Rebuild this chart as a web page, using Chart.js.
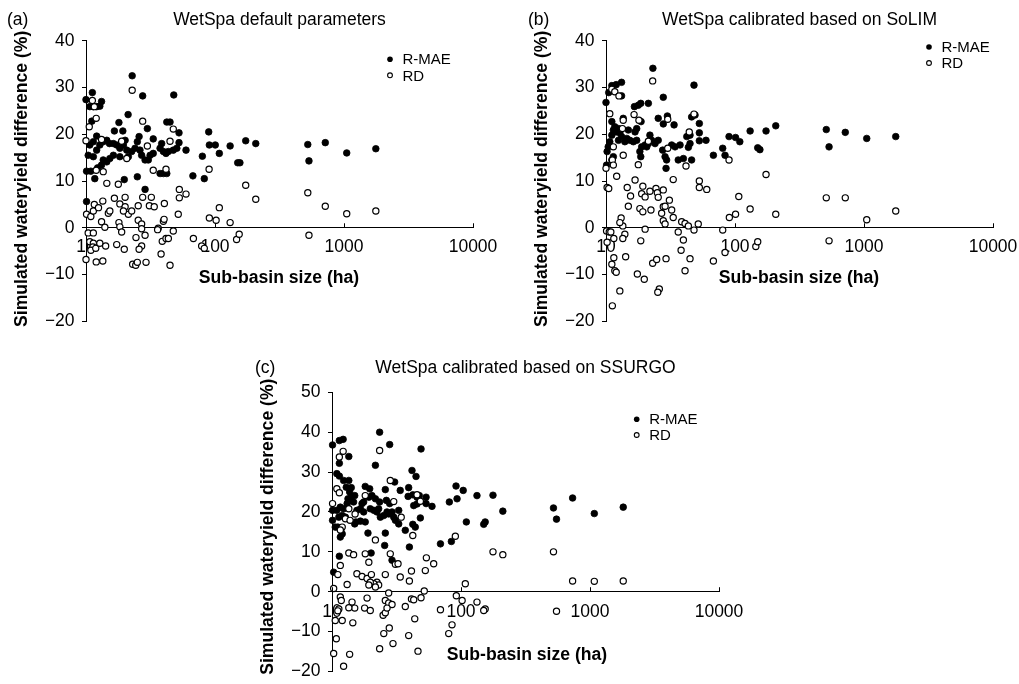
<!DOCTYPE html>
<html><head><meta charset="utf-8">
<script src="https://cdn.jsdelivr.net/npm/chart.js@4"></script>
<style>
html,body{margin:0;padding:0;background:#fff;}
#wrap{position:relative;width:1019px;height:684px;overflow:hidden;background:#fff;}
canvas{position:absolute;left:0;top:0;}
</style></head><body><div id="wrap">
<canvas id="ca" width="1019" height="684"></canvas>
<canvas id="cb" width="1019" height="684"></canvas>
<canvas id="cc" width="1019" height="684"></canvas>
</div>
<script>
// ---------- labels ----------
const xTickValues = [10, 100, 1000, 10000];
const seriesNames = ['R-MAE', 'RD'];
const panelLabels = ['(a)', '(b)', '(c)'];
const panelTitles = ['WetSpa default parameters', 'WetSpa calibrated based on SoLIM', 'WetSpa calibrated based on SSURGO'];
const xAxisTitle = 'Sub-basin size (ha)';
const yAxisTitle = 'Simulated wateryield difference (%)';
const yRangeAB = [-20, 40];
const yRangeC = [-20, 50];

// ---------- data: [sub-basin size (ha), difference (%)] ----------
const aRMAE = [[10,27.4],[11.2,28.9],[10.7,25.9],[11.4,25.9],[12.1,25.9],[12.8,26.0],[13.2,27.0],[11.1,22.8],[22.8,32.5],[27.5,28.2],[47.9,28.4],[21.2,24.2],[18.0,22.5],[42.3,22.6],[44.8,22.6],[29.9,21.2],[12.1,19.6],[16.6,20.7],[19.3,20.7],[25.8,19.5],[33.2,19.0],[52.6,20.3],[52.6,18.2],[89.4,20.5],[90.4,17.7],[100.5,17.7],[131,17.5],[173,18.6],[207,18.0],[108,15.9],[79.8,15.3],[150,13.9],[156,13.9],[67.4,11.1],[82.6,10.5],[59.6,16.6],[10.1,12.1],[10.9,12.1],[11.7,10.5],[12.3,12.8],[25.0,10.9],[19.8,10.3],[28.7,8.2],[10.1,5.6],[37.5,11.6],[39.8,11.6],[42.3,11.6],[10.4,15.5],[11.4,15.2],[12.1,16.6],[12.8,17.7],[13.6,18.4],[14.5,18.7],[15.2,18.0],[13.6,14.5],[14.5,14.1],[15.3,14.8],[16.3,15.5],[17.3,17.7],[18.3,17.0],[19.5,17.7],[20.7,16.6],[21.3,15.2],[22.6,16.3],[24.0,17.0],[25.0,18.4],[26.2,16.6],[27.0,15.5],[28.7,14.5],[30.4,14.5],[31.4,15.5],[33.2,15.9],[18.3,15.2],[16.3,18.0],[20.1,18.7],[37.5,17.0],[39.8,16.3],[41.7,15.9],[43.5,16.3],[47.5,16.6],[50.6,17.0],[38.6,18.0],[13.2,13.4],[10.7,17.7],[11.4,18.4],[524,17.8],[535,14.3],[716,18.2],[1050,16.0],[1765,16.9]];
const aRD = [[22.8,29.4],[11.2,27.2],[11.6,25.9],[12.0,23.4],[10.6,21.6],[10,18.6],[27.5,22.8],[47.5,21.1],[44.8,18.5],[18.9,18.5],[13.2,18.9],[29.9,17.5],[20.7,14.8],[12.0,12.3],[13.6,12.0],[33.2,12.3],[41.7,12.5],[90,12.5],[173,9.1],[207,6.1],[14.5,9.5],[17.8,9.3],[52.9,8.2],[52.9,6.4],[59.6,7.2],[51.9,2.9],[90.4,2.1],[102,1.6],[108,4.3],[131,1.1],[10.1,2.9],[10.9,2.4],[11.4,3.6],[11.6,5.0],[12.5,4.3],[13.5,5.7],[14.9,3.1],[15.3,3.6],[13.2,1.3],[14.0,0.1],[16.6,6.3],[18.3,5.1],[20.1,6.5],[21.3,2.9],[22.6,3.6],[20.1,4.5],[19.5,3.6],[18.0,1.1],[18.3,0.2],[18.9,-0.9],[25.4,4.7],[27.5,6.5],[31.0,4.7],[32.1,6.5],[33.8,4.5],[25.4,1.6],[27.0,0.8],[27.0,-0.2],[28.7,-1.6],[36.3,-0.1],[39.8,1.4],[40.3,1.8],[40.5,5.2],[47.5,-0.7],[10.4,-1.1],[11.4,-1.1],[10.7,-3.0],[11.4,-3.3],[11.3,-4.1],[10.9,-4.8],[11.9,-4.4],[12.8,-3.3],[14.2,-3.9],[10,-6.8],[12.0,-7.3],[13.5,-7.1],[17.3,-3.6],[19.8,-4.6],[23.0,-7.8],[24.3,-8.0],[25.0,-7.4],[29.2,-7.4],[24.4,-2.1],[27.0,-3.9],[25.8,-4.6],[38.2,-5.6],[39.0,-2.9],[41.7,-2.3],[43.5,-2.3],[44.8,-8.0],[68.0,-2.3],[78.8,-3.9],[82.6,-4.4],[147,-2.5],[154,-1.4],[35.9,-0.4],[524,7.5],[716,4.6],[1050,3.0],[1765,3.6],[535,-1.6]];

const bRMAE = [[10,26.8],[10.5,28.9],[11.1,30.4],[12.0,30.6],[13.2,31.1],[13.2,28.2],[23.1,34.1],[27.8,27.9],[48.1,30.5],[21.3,26.6],[16.6,25.9],[17.8,26.2],[18.6,26.6],[11.1,22.7],[13.6,23.4],[18.7,22.7],[25.4,23.4],[29.9,23.9],[27.8,22.2],[46.1,23.7],[49.0,24.1],[52.9,22.3],[33.7,22.0],[80.3,17.0],[83.7,15.5],[89.9,19.5],[101,19.3],[109,18.4],[131,20.7],[174,20.7],[150,17.1],[156,16.7],[68.0,15.5],[59.6,18.7],[52.9,18.6],[52.9,20.3],[44.8,18.0],[43.5,17.2],[42.3,19.5],[44.8,19.8],[46.1,14.5],[39.8,14.8],[36.3,14.5],[29.2,12.7],[28.7,15.2],[29.5,14.5],[27.5,16.6],[25.4,18.7],[24.0,18.0],[22.6,18.7],[21.3,18.0],[20.1,17.7],[21.9,19.8],[18.9,17.3],[18.3,16.3],[18.6,15.2],[17.3,18.7],[16.3,18.4],[16.8,20.5],[17.3,21.2],[14.9,20.9],[14.5,19.1],[13.2,19.5],[12.5,18.7],[12.8,20.3],[11.4,20.9],[11.1,19.8],[11.7,21.6],[10.7,18.4],[10.4,17.3],[10.2,16.3],[10.1,13.4],[11.1,14.5],[11.4,15.2],[12.1,20.5],[12.5,21.2],[14.0,18.4],[15.3,18.7],[20.7,17.3],[32.3,17.7],[34.3,17.3],[37.5,17.7],[207,21.8],[510,21.0],[536,17.3],[716,20.4],[1050,19.1],[1762,19.5]];
const bRD = [[23.0,31.4],[11.1,29.6],[11.7,29.1],[12.6,28.2],[10.7,24.4],[48.1,24.3],[16.5,24.2],[13.6,23.0],[18.0,23.0],[13.4,21.2],[30.1,23.2],[44.2,20.5],[21.3,18.5],[30.1,17.0],[11.4,17.3],[10,12.7],[11.2,14.5],[11.4,13.4],[13.6,15.5],[17.8,13.5],[41.7,13.2],[89.9,14.5],[174,11.4],[12.1,11.0],[10.2,8.6],[10.5,8.4],[16.8,10.2],[33.2,10.3],[52.9,10.0],[52.9,8.6],[60.4,8.2],[14.6,8.6],[15.5,6.8],[19.3,8.9],[18.9,7.3],[20.1,6.6],[21.9,7.8],[24.4,8.4],[25.0,7.5],[27.8,8.1],[25.4,6.5],[14.9,4.6],[18.3,4.1],[19.3,3.4],[22.3,3.8],[31.0,5.9],[27.8,4.5],[32.3,3.8],[27.0,3.1],[28.7,4.6],[27.8,1.5],[28.7,0.8],[33.2,2.2],[13.1,2.1],[13.5,0.4],[12.8,1.1],[20.1,-0.3],[38.6,1.3],[41.0,0.9],[43.5,0.4],[48.1,-0.5],[51.9,0.8],[36.3,-0.9],[80.3,-0.5],[90.4,2.2],[101,2.9],[107,6.7],[131,4.0],[10.1,-0.7],[10.6,-0.9],[10.9,-0.9],[10.2,-3.1],[11.5,-2.3],[14.0,-1.4],[13.5,-2.3],[11.5,-6.4],[11.1,-7.8],[11.7,-9.2],[12.0,-9.5],[14.2,-6.2],[18.6,-2.8],[17.5,-9.9],[19.8,-11.0],[12.8,-13.5],[11.2,-16.7],[23.0,-7.6],[24.7,-6.8],[29.2,-6.6],[25.9,-13.1],[25.2,-13.8],[39.8,-2.6],[38.2,-4.8],[41.0,-9.2],[44.8,-6.6],[68.0,-7.1],[83.7,-5.3],[145,-4.0],[150,-3.0],[207,2.9],[510,6.4],[716,6.4],[1050,1.7],[1762,3.6],[536,-2.8]];

const cRMAE = [[23.4,40.0],[10.1,36.8],[11.4,37.9],[12.2,38.2],[28.0,36.9],[49.0,35.8],[13.5,33.9],[11.4,32.2],[21.7,31.7],[41.7,30.4],[44.8,28.9],[10.9,29.6],[11.4,29.0],[12.3,27.9],[13.5,27.9],[12.9,26.2],[14.1,26.1],[13.7,25.0],[18.1,26.4],[19.6,25.8],[25.9,25.6],[30.6,27.5],[33.8,25.4],[39.3,26.1],[38.9,23.9],[42.3,24.3],[45.6,23.7],[47.5,24.1],[53.6,23.7],[53.6,22.1],[91.5,26.5],[104,25.4],[81.2,22.5],[93.2,23.3],[133,24.1],[177,24.2],[211,20.2],[110,17.5],[150,16.9],[154,17.5],[69.3,12.0],[84.2,12.6],[59.6,21.4],[43.0,21.6],[45.6,22.0],[48.4,18.5],[42.3,16.9],[44.2,16.2],[37.0,15.4],[39.8,11.2],[25.9,14.7],[19.0,14.7],[25.6,11.6],[20.1,9.7],[29.2,7.9],[11.4,8.9],[10.3,4.9],[11.6,13.7],[12.0,14.5],[11.1,16.2],[10.6,16.2],[10.1,20.4],[10.1,17.9],[10.9,20.4],[11.6,21.2],[12.3,20.8],[11.3,18.7],[12.0,19.1],[12.7,18.7],[13.3,23.3],[14.1,23.7],[15.0,24.1],[13.1,22.1],[13.9,22.9],[14.7,22.5],[15.6,20.4],[16.6,20.8],[17.6,20.0],[15.3,17.5],[16.6,17.7],[18.1,17.5],[19.3,23.7],[20.4,24.1],[21.7,23.3],[19.8,20.8],[21.1,20.4],[22.3,20.0],[23.0,20.8],[23.7,18.7],[25.2,19.1],[26.7,20.0],[27.5,19.5],[29.2,20.0],[30.1,18.7],[31.0,17.9],[32.9,17.0],[26.4,22.9],[28.0,22.1],[23.4,22.5],[32.9,20.4],[17.6,22.5],[17.1,22.1],[15.0,17.0],[11.8,15.8],[521,21.0],[550,18.2],[733,23.5],[1080,19.6],[1810,21.2]];
const cRD = [[23.4,35.4],[12.2,35.2],[11.4,33.8],[10.9,25.8],[11.4,24.8],[28.3,27.9],[10.1,22.1],[13.5,20.8],[12.7,18.3],[12.0,16.2],[11.6,15.5],[13.8,17.9],[18.1,24.1],[30.1,22.6],[45.6,24.3],[48.4,22.7],[34.4,18.7],[15.1,19.5],[21.7,13.0],[42.3,14.1],[90.4,13.9],[13.5,9.7],[14.7,9.3],[18.1,9.5],[19.3,7.4],[28.3,9.5],[31.0,6.9],[32.5,7.0],[53.9,8.5],[61.4,7.0],[52.9,5.3],[41.3,5.2],[11.6,6.6],[11.1,4.3],[15.6,4.5],[17.1,3.8],[18.7,3.3],[20.2,4.3],[22.3,2.4],[23.0,1.7],[21.1,2.0],[19.8,2.4],[19.3,1.7],[21.7,1.2],[25.9,4.3],[33.8,3.7],[39.8,2.7],[13.1,1.8],[10.3,0.8],[27.5,-0.3],[51.9,0.2],[92,-1.0],[102,-2.2],[108,2.0],[133,-2.6],[154,-4.3],[150,-4.7],[69.3,-4.5],[85.2,-8.3],[80.3,-10.5],[11.6,-1.3],[11.8,-2.2],[11.3,-4.3],[11.1,-4.8],[10.6,-7.2],[10.8,-11.8],[10.3,-15.5],[12.3,-18.7],[13.7,-15.7],[12.0,-7.2],[14.5,-7.8],[14.3,-2.6],[15.0,-4.1],[13.5,-4.0],[18.7,-1.6],[17.9,-4.1],[19.8,-4.7],[24.9,-5.9],[25.9,-5.3],[25.2,-10.5],[27.8,-9.1],[25.9,-2.2],[27.5,-2.8],[29.2,-3.2],[26.7,-4.1],[23.4,-14.3],[29.7,-13.0],[37.0,-3.7],[41.3,-1.8],[43.0,-2.0],[43.8,-6.8],[39.3,-11.0],[46.4,-14.9],[49.0,-1.5],[211,9.3],[177,10.0],[521,10.0],[733,2.7],[1080,2.6],[1810,2.7],[550,-4.9]];

// ---------- styling / layout ----------
const FONT = '"Liberation Sans", Arial, Helvetica, sans-serif';
const W = 1019, H = 684, YW = 40;

const panels = [
  {id:'ca', idx:0, rmae:aRMAE, rd:aRD, yr:yRangeAB, L:86, R:473, T:40.7, B:321.3, tickPad:8.8,
   labX:7, labY:25, titX:279.5, titY:25, ytX:27, ytY:178.8, xtX:279, xtY:283,
   lgX:390, lgY1:59.3, lgY2:75.3},
  {id:'cb', idx:1, rmae:bRMAE, rd:bRD, yr:yRangeAB, L:606, R:993, T:40.7, B:321.3, tickPad:8.8,
   labX:528, labY:25, titX:799.5, titY:25, ytX:546.5, ytY:178.8, xtX:799, xtY:283,
   lgX:929, lgY1:47, lgY2:63},
  {id:'cc', idx:2, rmae:cRMAE, rd:cRD, yr:yRangeC, L:332, R:719, T:392.3, B:671.5, tickPad:10,
   labX:255, labY:373.3, titX:525.5, titY:373.3, ytX:272.5, ytY:526.7, xtX:527, xtY:660,
   lgX:636.7, lgY1:419.3, lgY2:435}
];

function textPlugin(p) {
  return {
    id: 'panelText' + p.idx,
    afterDraw(chart) {
      const ctx = chart.ctx;
      const xs = chart.scales.x, ys = chart.scales.y;
      ctx.save();
      // x tick marks pointing up
      const y0 = ys.getPixelForValue(0);
      ctx.strokeStyle = '#000'; ctx.lineWidth = 1;
      xTickValues.forEach(v => {
        const px = Math.round(xs.getPixelForValue(v)) + 0.5;
        ctx.beginPath(); ctx.moveTo(px, y0); ctx.lineTo(px, y0 - 4.5); ctx.stroke();
      });
      ctx.fillStyle = '#000';
      ctx.textBaseline = 'alphabetic';
      // panel label + title
      ctx.font = '17.5px ' + FONT;
      ctx.textAlign = 'left';
      ctx.fillText(panelLabels[p.idx], p.labX, p.labY);
      ctx.textAlign = 'center';
      ctx.fillText(panelTitles[p.idx], p.titX, p.titY);
      // axis titles
      ctx.font = 'bold 17.6px ' + FONT;
      ctx.fillText(xAxisTitle, p.xtX, p.xtY);
      ctx.save();
      ctx.translate(p.ytX, p.ytY);
      ctx.rotate(-Math.PI / 2);
      ctx.fillText(yAxisTitle, 0, 0);
      ctx.restore();
      // legend
      ctx.beginPath(); ctx.arc(p.lgX, p.lgY1, 2.8, 0, Math.PI * 2); ctx.fill();
      ctx.beginPath(); ctx.arc(p.lgX, p.lgY2, 2.4, 0, Math.PI * 2);
      ctx.fillStyle = '#fff'; ctx.fill(); ctx.lineWidth = 1.1; ctx.strokeStyle = '#000'; ctx.stroke();
      ctx.fillStyle = '#000';
      ctx.font = '15px ' + FONT;
      ctx.textAlign = 'left';
      ctx.fillText(seriesNames[0], p.lgX + 12.5, p.lgY1 + 5);
      ctx.fillText(seriesNames[1], p.lgX + 12.5, p.lgY2 + 5.2);
      ctx.restore();
    }
  };
}

panels.forEach(p => {
  const toPts = arr => arr.map(([x, y]) => ({x, y}));
  new Chart(document.getElementById(p.id), {
    type: 'scatter',
    data: {
      datasets: [
        {label: seriesNames[1], data: toPts(p.rd), pointRadius: 3.1, pointBorderWidth: 1.2,
         pointBackgroundColor: '#fff', pointBorderColor: '#000', order: 0, clip: false},
        {label: seriesNames[0], data: toPts(p.rmae), pointRadius: 3.3, pointBorderWidth: 0.8,
         pointBackgroundColor: '#000', pointBorderColor: '#000', order: 1, clip: false}
      ]
    },
    options: {
      responsive: false, animation: false, events: [],
      layout: {padding: {left: p.L - YW, right: W - p.R, top: p.T, bottom: H - p.B}},
      plugins: {legend: {display: false}, tooltip: {enabled: false}, title: {display: false}},
      scales: {
        x: {
          type: 'logarithmic', min: 10, max: 10000, position: {y: 0},
          grid: {display: false, drawTicks: false},
          border: {display: true, color: '#000', width: 1},
          afterBuildTicks: s => { s.ticks = xTickValues.map(v => ({value: v})); },
          afterFit: s => { s.paddingLeft = 0; s.paddingRight = 0; s.paddingTop = 0; s.paddingBottom = 0; },
          ticks: {padding: p.tickPad, color: '#000', font: {family: FONT, size: 17.5},
                  maxRotation: 0, minRotation: 0, autoSkip: false, callback: v => String(v)}
        },
        y: {
          type: 'linear', min: p.yr[0], max: p.yr[1], position: 'left',
          afterFit: s => { s.width = YW; s.paddingTop = 0; s.paddingBottom = 0; s.paddingLeft = 0; s.paddingRight = 0; },
          grid: {display: true, drawOnChartArea: false, drawTicks: true, tickLength: 4, color: '#000', lineWidth: 1},
          border: {display: true, color: '#000', width: 1},
          ticks: {stepSize: 10, padding: 7.5, color: '#000', font: {family: FONT, size: 17.5},
                  callback: v => String(v).replace('-', '\u2212')}
        }
      }
    },
    plugins: [textPlugin(p)]
  });
});
</script>
</body></html>
